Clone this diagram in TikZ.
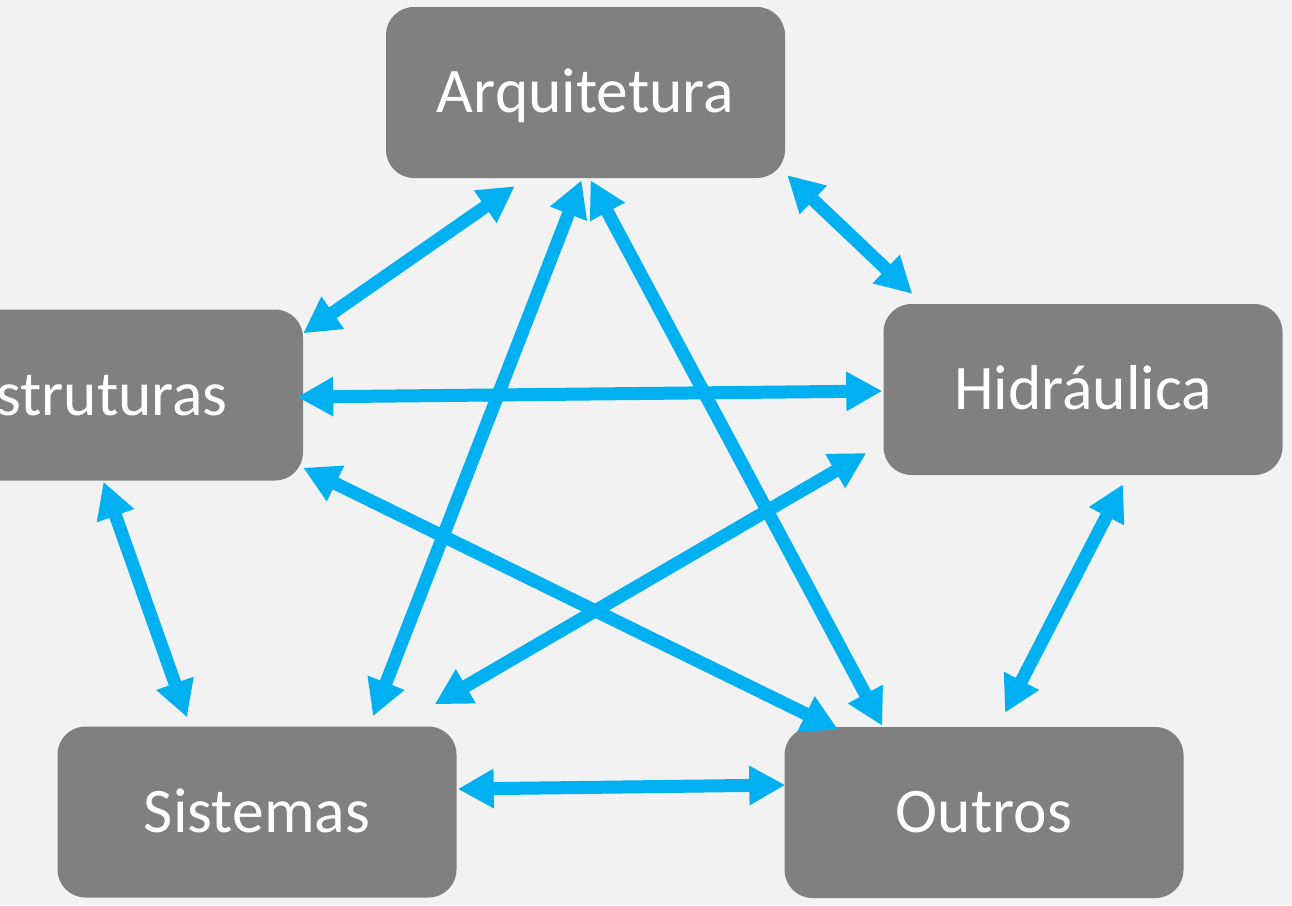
\documentclass[tikz,border=0pt]{standalone}
\usepackage{fontspec}
\setmainfont{Carlito}
\usetikzlibrary{arrows.meta,calc}
\definecolor{boxgray}{HTML}{808080}
\definecolor{arrblue}{HTML}{00B0F0}
\definecolor{bggray}{HTML}{F2F2F2}
\tikzset{
  box/.style={draw=none, fill=boxgray, rounded corners=28pt, minimum width=399pt,
    minimum height=171pt, inner sep=0pt, text=white, font=\fontsize{63.5}{64}\selectfont,
    text height=40pt, text depth=0pt},
  link/.style={draw=arrblue, line width=13pt,
    {Triangle[length=36pt,width=37pt]}-{Triangle[length=36pt,width=37pt]}}
}
\begin{document}
\begin{tikzpicture}[x=1pt,y=-1pt]
\useasboundingbox (0,0) rectangle (1292,905);
\clip (0,0) rectangle (1292,905);
\fill[bggray] (0,0) rectangle (1292,905);

\node[box] (arq)  at (585.5,92.5) {Arquitetura};
\node[box] (estr) at (103.5,395)  {\hspace*{-14pt}Estruturas};
\node[box] (hidr) at (1083,389.5) {Hidráulica};
\node[box] (sis)  at (257,812)    {Sistemas};
\node[box] (out)  at (984,812.5)  {Outros};

\draw[link] ($(arq.south west)+(129,8)$) -- ($(estr.north east)+(0,24)$);
\draw[link] ($(arq.south)+(-4,2)$) -- ($(sis.north)+(116,-10)$);
\draw[link] ($(arq.south)+(5,2)$) -- ($(out.north west)+(98,-1)$);
\draw[link] ($(arq.south east)+(2,-3)$) -- ($(hidr.north west)+(29,-10)$);
\draw[link] ($(estr.east)+(-6,2)$) -- ($(hidr.west)+(-1,1.5)$);
\draw[link] ($(estr.south east)+(0,-13)$) -- ($(out.north west)+(54,3)$);
\draw[link] ($(estr.south)+(0,1)$) -- ($(sis.north)+(-70,-9)$);
\draw[link] ($(hidr.west)+(-17,63.5)$) -- ($(sis.north east)+(-22,-22)$);
\draw[link] ($(hidr.south)+(40,9)$) -- ($(out.north)+(21,-14)$);
\draw[link] ($(sis.east)+(1,-23)$) -- ($(out.west)+(1,-27.5)$);
\end{tikzpicture}
\end{document}
